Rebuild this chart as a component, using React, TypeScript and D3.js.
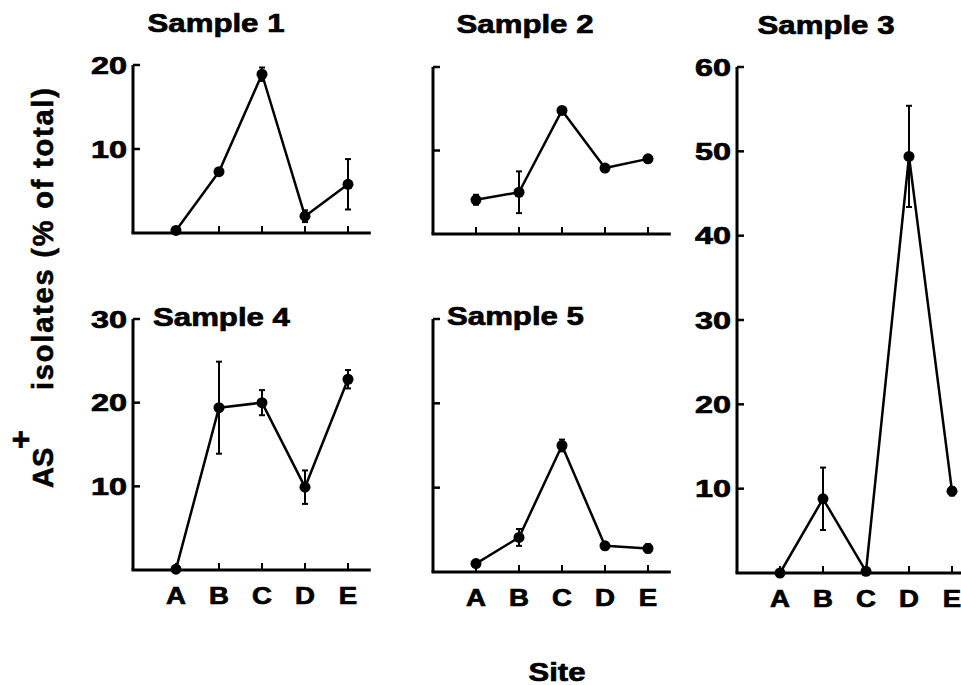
import React from "react";
import { scaleLinear, line } from "d3";

const sites = ["A", "B", "C", "D", "E"];

const sample1 = [0.3, 7.3, 18.9, 2.0, 5.8];
const err1 = [0, 0, 0.8, 0.7, 3.0];
const sample2 = [4.1, 5.0, 14.8, 7.9, 9.0];
const err2 = [0.6, 2.5, 0, 0, 0];
const sample3 = [0, 8.8, 0.2, 49.4, 9.7];
const err3 = [0, 3.7, 0, 6.0, 0.5];
const sample4 = [0.1, 19.4, 20.0, 9.9, 22.8];
const err4 = [0, 5.5, 1.5, 2.0, 1.1];
const sample5 = [1.0, 4.1, 15.0, 3.1, 2.8];
const err5 = [0, 1.0, 0.7, 0, 0.5];

const ticks20 = [10, 20];
const ticks30 = [10, 20, 30];
const ticks60 = [10, 20, 30, 40, 50, 60];

const FONT = "'Liberation Sans', Arial, Helvetica, sans-serif";

// bold text stretched horizontally, like the wide typeface of the original
const WideText = ({ x, y, anchor = "middle", size, stretch = 1.3, children }) => (
  <text
    transform={`translate(${x},${y}) scale(${stretch},1)`}
    textAnchor={anchor}
    fontFamily={FONT}
    fontWeight="bold"
    fontSize={size}
    fill="#000"
    stroke="#000"
    strokeWidth={0.7}
  >
    {children}
  </text>
);

const Panel = ({ title, titleX, titleY, titleAnchor, values, errors, x0, bottom, top, yMax, ticks, showYLabels, showXLabels }) => {
  const step = 43;
  const xScale = scaleLinear().domain([0, 5.53]).range([x0, x0 + 5.53 * step]);
  const yScale = scaleLinear().domain([0, yMax]).range([bottom, top]);
  const pts = values.map((v, i) => [xScale(i + 1), yScale(v)]);
  const path = line()(pts);

  return (
    <g>
      {/* axes */}
      <line x1={x0} x2={x0} y1={yScale(0)} y2={yScale(yMax)} stroke="#000" strokeWidth={3} />
      <line x1={x0 - 1.5} x2={xScale(5.53)} y1={yScale(0)} y2={yScale(0)} stroke="#000" strokeWidth={3} />
      {ticks.map((t) => (
        <g key={t}>
          <line x1={x0} x2={x0 + 7} y1={yScale(t)} y2={yScale(t)} stroke="#000" strokeWidth={2.5} />
          {showYLabels && (
            <WideText x={x0 - 6} y={yScale(t) + 8.5} anchor="end" size={24} stretch={1.35}>
              {t}
            </WideText>
          )}
        </g>
      ))}
      {sites.map((s, i) => (
        <g key={s}>
          <line x1={xScale(i + 1)} x2={xScale(i + 1)} y1={yScale(0)} y2={yScale(0) - 7} stroke="#000" strokeWidth={2} />
          {showXLabels && (
            <WideText x={xScale(i + 1)} y={yScale(0) + 34} size={23} stretch={1.2}>
              {s}
            </WideText>
          )}
        </g>
      ))}
      {/* data */}
      <path d={path} fill="none" stroke="#000" strokeWidth={2.5} strokeLinejoin="round" />
      {values.map((v, i) =>
        errors[i] > 0 ? (
          <g key={"e" + i} stroke="#000" strokeWidth={2}>
            <line x1={xScale(i + 1)} x2={xScale(i + 1)} y1={yScale(v - errors[i])} y2={yScale(v + errors[i])} />
            <line x1={xScale(i + 1) - 3} x2={xScale(i + 1) + 3} y1={yScale(v + errors[i])} y2={yScale(v + errors[i])} />
            <line x1={xScale(i + 1) - 3} x2={xScale(i + 1) + 3} y1={yScale(v - errors[i])} y2={yScale(v - errors[i])} />
          </g>
        ) : null
      )}
      {values.map((v, i) => (
        <circle key={"c" + i} cx={xScale(i + 1)} cy={yScale(v)} r={5.5} fill="#000" />
      ))}
      <WideText x={titleX} y={titleY} anchor={titleAnchor} size={26} stretch={1.2}>
        {title}
      </WideText>
    </g>
  );
};

export default function App() {
  return (
    <svg width={961} height={685} style={{ position: "absolute", left: 0, top: 0, background: "#fff" }}>
      <rect width={961} height={685} fill="#fff" />
      <Panel title="Sample 1" titleX={216} titleY={32} titleAnchor="middle" values={sample1} errors={err1}
        x0={133} bottom={233} top={65} yMax={20} ticks={ticks20} showYLabels={true} showXLabels={false} />
      <Panel title="Sample 2" titleX={525} titleY={33} titleAnchor="middle" values={sample2} errors={err2}
        x0={433} bottom={234} top={67} yMax={20} ticks={ticks20} showYLabels={false} showXLabels={false} />
      <Panel title="Sample 3" titleX={826} titleY={34} titleAnchor="middle" values={sample3} errors={err3}
        x0={737} bottom={573} top={67} yMax={60} ticks={ticks60} showYLabels={true} showXLabels={true} />
      <Panel title="Sample 4" titleX={153} titleY={326} titleAnchor="start" values={sample4} errors={err4}
        x0={133} bottom={570} top={319} yMax={30} ticks={ticks30} showYLabels={true} showXLabels={true} />
      <Panel title="Sample 5" titleX={447} titleY={325} titleAnchor="start" values={sample5} errors={err5}
        x0={433} bottom={572} top={319} yMax={30} ticks={ticks30} showYLabels={false} showXLabels={true} />

      {/* y axis label */}
      <g fontFamily={FONT} fontWeight="bold" fill="#000" stroke="#000" strokeWidth={0.6}>
        <text transform="translate(53,390) rotate(-90)" textAnchor="start" fontSize={29} letterSpacing={1.8}>
          isolates (% of total)
        </text>
        <text transform="translate(53,488) rotate(-90)" textAnchor="start" fontSize={29}>
          AS
        </text>
        <text transform="translate(31,449) rotate(-90)" textAnchor="start" fontSize={32}>
          +
        </text>
      </g>

      <WideText x={557} y={681} size={25} stretch={1.24}>
        Site
      </WideText>
    </svg>
  );
}
